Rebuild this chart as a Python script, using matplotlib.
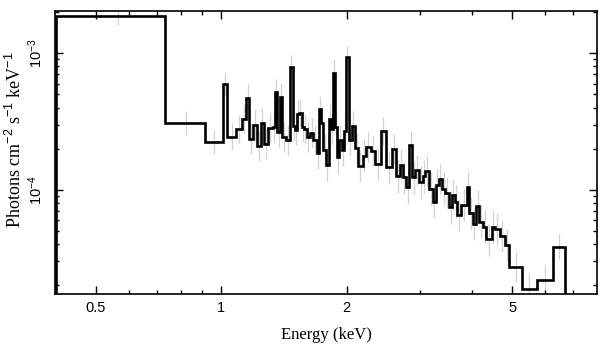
import numpy as np
import matplotlib
matplotlib.use("Agg")
import matplotlib.pyplot as plt
from matplotlib.ticker import FixedLocator, FixedFormatter, FuncFormatter, LogLocator, NullFormatter

plt.rcParams['mathtext.fontset'] = 'custom'
plt.rcParams['mathtext.rm'] = 'Liberation Sans'
plt.rcParams['mathtext.it'] = 'Liberation Sans:italic'

# bin edges (keV)
energy_edges = [0.40, 0.732, 0.913, 1.011, 1.033, 1.084, 1.119, 1.144, 1.167, 1.189,
                1.215, 1.243, 1.266, 1.294, 1.328, 1.345, 1.362, 1.382, 1.400, 1.427,
                1.461, 1.483, 1.502, 1.516, 1.536, 1.559, 1.579, 1.603, 1.632, 1.663,
                1.694, 1.713, 1.732, 1.757, 1.783, 1.810, 1.830, 1.850, 1.874, 1.898,
                1.919, 1.945, 1.970, 1.992, 2.021, 2.055, 2.093, 2.132, 2.184, 2.225,
                2.283, 2.338, 2.416, 2.484, 2.564, 2.626, 2.685, 2.725, 2.775, 2.826,
                2.869, 2.917, 2.987, 3.044, 3.088, 3.157, 3.217, 3.276, 3.325, 3.386,
                3.449, 3.526, 3.579, 3.639, 3.685, 3.755, 3.882, 3.938, 4.013, 4.087,
                4.162, 4.255, 4.319, 4.457, 4.539, 4.667, 4.797, 4.912, 5.260, 5.715,
                6.244, 6.694]

# unfolded flux per bin (photons cm^-2 s^-1 keV^-1)
flux = [1.877e-3, 3.08e-4, 2.24e-4, 5.96e-4, 2.45e-4, 2.79e-4, 3.30e-4, 4.72e-4, 2.35e-4, 2.98e-4,
        2.10e-4, 3.10e-4, 2.16e-4, 2.82e-4, 2.87e-4, 5.18e-4, 2.66e-4, 4.76e-4, 2.45e-4, 2.31e-4,
        7.89e-4, 2.93e-4, 2.74e-4, 3.59e-4, 3.67e-4, 2.87e-4, 2.77e-4, 2.45e-4, 2.62e-4, 2.31e-4,
        1.87e-4, 3.88e-4, 3.07e-4, 1.95e-4, 1.52e-4, 3.28e-4, 2.77e-4, 7.21e-4, 2.90e-4, 1.73e-4,
        2.31e-4, 1.95e-4, 2.71e-4, 9.35e-4, 2.31e-4, 2.93e-4, 2.02e-4, 1.49e-4, 1.77e-4, 2.05e-4,
        1.93e-4, 1.54e-4, 2.69e-4, 1.46e-4, 1.98e-4, 1.25e-4, 1.52e-4, 1.23e-4, 1.04e-4, 2.13e-4,
        1.23e-4, 1.39e-4, 1.13e-4, 1.25e-4, 1.36e-4, 1.02e-4, 8.17e-5, 1.08e-4, 1.19e-4, 1.02e-4,
        9.41e-5, 7.43e-5, 9.14e-5, 8.17e-5, 6.52e-5, 7.72e-5, 1.04e-4, 6.71e-5, 5.60e-5, 7.60e-5,
        5.82e-5, 5.35e-5, 4.33e-5, 5.35e-5, 5.12e-5, 4.58e-5, 3.93e-5, 2.73e-5, 1.86e-5, 2.18e-5,
        3.82e-5]

# error half-size per bin (dex)
err_dex = [0.07, 0.09, 0.09, 0.09, 0.10, 0.10, 0.10, 0.10, 0.11, 0.11,
           0.11, 0.11, 0.11, 0.11, 0.11, 0.10, 0.11, 0.10, 0.11, 0.11,
           0.09, 0.11, 0.11, 0.10, 0.10, 0.11, 0.11, 0.11, 0.11, 0.11,
           0.12, 0.10, 0.11, 0.12, 0.12, 0.11, 0.11, 0.09, 0.11, 0.12,
           0.11, 0.12, 0.11, 0.08, 0.11, 0.11, 0.11, 0.12, 0.12, 0.11,
           0.11, 0.12, 0.10, 0.12, 0.11, 0.12, 0.12, 0.12, 0.12, 0.10,
           0.12, 0.11, 0.12, 0.12, 0.11, 0.12, 0.12, 0.12, 0.11, 0.12,
           0.11, 0.12, 0.11, 0.12, 0.12, 0.12, 0.11, 0.12, 0.12, 0.12,
           0.12, 0.12, 0.12, 0.12, 0.12, 0.12, 0.12, 0.11, 0.12, 0.11,
           0.09]

x_major = [0.5, 1, 2, 5]
x_major_labels = ["0.5", "1", "2", "5"]
x_minor = [0.6, 0.7, 0.8, 0.9, 3, 4, 6, 7]

edges = np.array(energy_edges)
f = np.array(flux)
e = np.array(err_dex)
centers = 0.5 * (edges[:-1] + edges[1:])

fig = plt.figure(figsize=(6.08, 3.57), dpi=100)
ax = fig.add_axes([55/608, 1-294/357, (597-55)/608, (294-11)/357])

ax.vlines(centers, f * 10**(-e), f * 10**e, color='#d2d2d2', lw=0.9, zorder=1)
ax.stairs(f, edges, baseline=1e-8, color='black', lw=1.9, zorder=2)

ax.set_xscale('log')
ax.set_yscale('log')
ax.set_xlim(0.3985, 7.98)
ax.set_ylim(1.72e-5, 2.04e-3)

ax.xaxis.set_major_locator(FixedLocator(x_major))
ax.xaxis.set_major_formatter(FixedFormatter(x_major_labels))
ax.xaxis.set_minor_locator(FixedLocator(x_minor))
ax.xaxis.set_minor_formatter(NullFormatter())

ax.yaxis.set_major_locator(LogLocator(base=10))
ax.yaxis.set_minor_locator(LogLocator(base=10, subs=np.arange(2, 10)))
ax.yaxis.set_minor_formatter(NullFormatter())
ax.yaxis.set_major_formatter(FuncFormatter(lambda v, p: r'$10^{%d}$' % int(round(np.log10(v)))))

ax.tick_params(which='both', direction='in', top=True, right=True, width=1.0, colors='black')
ax.tick_params(which='major', length=5.5)
ax.tick_params(which='minor', length=3.2)
ax.tick_params(axis='x', which='major', labelsize=10.5, pad=5)
ax.tick_params(axis='y', which='major', labelsize=10.5, pad=7, labelrotation=90)
for lab in ax.get_xticklabels():
    lab.set_fontfamily('Liberation Sans')
for lab in ax.get_yticklabels():
    lab.set_fontfamily('Liberation Sans')
    lab.set_va('center')

for s in ax.spines.values():
    s.set_linewidth(1.2)

ax.set_xlabel('Energy (keV)', family='Liberation Serif', fontsize=12, labelpad=9)
ax.set_ylabel(r'Photons cm$^{-2}$ s$^{-1}$ keV$^{-1}$', family='Liberation Serif', fontsize=13)
ax.yaxis.set_label_coords(-0.056, 0.544)

fig.savefig('out.png', dpi=100)
